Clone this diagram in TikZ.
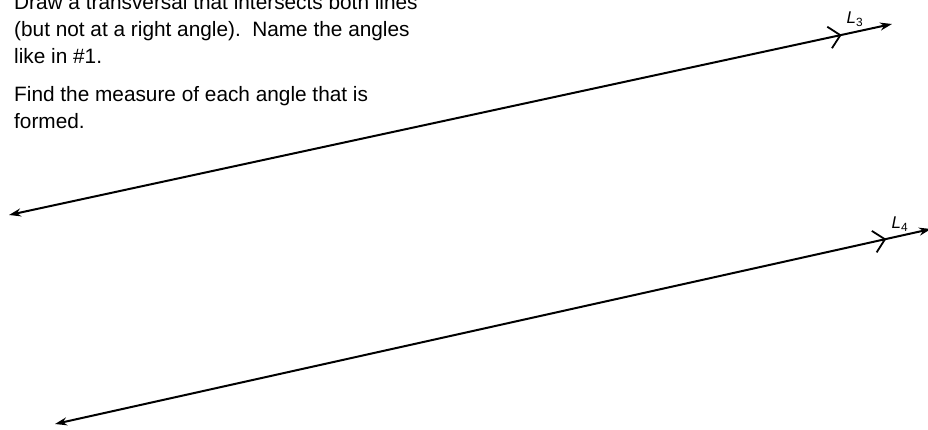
\documentclass[tikz,border=0pt]{standalone}
\usepackage{fontspec}
\setmainfont{Liberation Sans}
\usetikzlibrary{arrows.meta,decorations.markings}
\tikzset{
  txt/.style={anchor=base west, inner sep=0pt, font=\fontsize{20.8}{27}\selectfont},
  lbl/.style={inner sep=0pt, font=\fontsize{17}{20}\selectfont},
  parline/.style={line width=2pt, {Stealth[length=12pt,width=8pt]}-{Stealth[length=12pt,width=8pt]}},
  chev/.style={postaction={decorate, decoration={markings,
     mark=at position #1 with {\arrow{Straight Barb[length=11pt,width=22pt,line width=1.8pt]}}}}}
}
\begin{document}
\begin{tikzpicture}[x=1pt,y=-1pt]
\useasboundingbox (0,0) rectangle (928,430);
% text
\node[txt] (t1) at (14,10) {Draw a transversal that intersects both lines};
\node[txt] (t2) at (14,37) {(but not at a right angle).\ \ Name the angles};
\node[txt] (t3) at (14,64) {like in \#1.};
\node[txt] (t4) at (14,102) {Find the measure of each angle that is};
\node[txt] (t5) at (14,129) {formed.};
% lines
\coordinate (a1) at (9,215);
\coordinate (a2) at (892,24);
\coordinate (b1) at (55,424);
\coordinate (b2) at (931,229);
\draw[parline, chev=0.943] (a1) -- (a2);
\draw[parline, chev=0.949] (b1) -- (b2);
% labels
\node[lbl] (l3) at (855,19) {\textit{L}\textsubscript{3}};
\node[lbl] (l4) at (900,224) {\textit{L}\textsubscript{4}};
\end{tikzpicture}
\end{document}
